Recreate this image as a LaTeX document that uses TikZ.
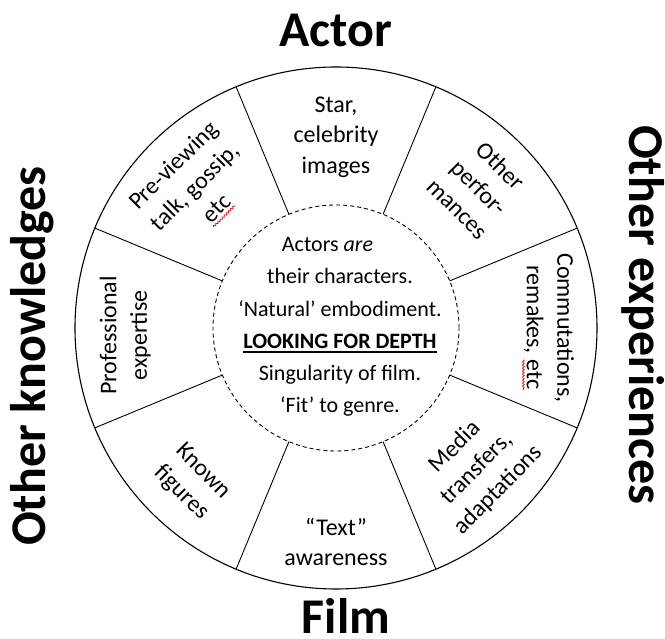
\documentclass[tikz,border=0pt]{standalone}
\usepackage{fontspec}
\setmainfont{Carlito}
\usetikzlibrary{decorations.pathmorphing}
\newcommand\spellerr[1]{\tikz[baseline=(w.base)]{\node[inner sep=0pt] (w) {#1};
	\draw[red!85!black,line width=0.7pt,decorate,decoration={snake,amplitude=0.9pt,segment length=3pt}] ([yshift=-3.5pt]w.base west)--([yshift=-3.5pt]w.base east);}}
\newcommand\thickul[1]{\setbox0\hbox{#1}\rlap{\rule[-4.5pt]{\wd0}{1.6pt}}\box0}
\tikzset{sector/.style={align=center,inner sep=0pt,font=\fontsize{24}{30.5}\selectfont},
	heading/.style={inner sep=0pt,anchor=base,font=\fontsize{50}{60}\selectfont\bfseries}}
\begin{document}
\begin{tikzpicture}[x=1pt,y=1pt]
	\useasboundingbox (0,0) rectangle (665,639);
	\begin{scope}[shift={(336,311)}]
		\draw[line width=1.1pt] (0,0) circle[radius=261pt];
		\draw[line width=0.9pt,dash pattern=on 4pt off 3pt] (0,0) circle[radius=123pt];
		\foreach \a in {22.5,67.5,...,337.5} \draw[line width=0.9pt] (\a:123pt)--(\a:261pt);
		\node[sector] (star) at (90:191pt) {Star,\\celebrity\\images};
		\node[sector,rotate=-45] (perf) at (44.5:201pt) {Other\\perfor-\\mances};
		\node[sector,rotate=-90] (remakes) at (0:212pt) {Commutations,\\remakes, \spellerr{etc}};
		\node[sector,rotate=45] (media) at (-45:199pt) {Media\\transfers,\\adaptations};
		\node[sector] (text) at (270:214pt) {“Text”\\awareness};
		\node[sector,rotate=-45] (known) at (227:211pt) {Known\\figures};
		\node[sector,rotate=90] (expert) at (182:211pt) {Professional\\expertise};
		\node[sector,rotate=45] (gossip) at (135:198pt) {Pre-viewing\\talk, gossip,\\\spellerr{etc}};
		\node[align=center,inner sep=0pt,font=\fontsize{22}{32.2}\selectfont] (core) at (4,1) {Actors \textit{are}\hspace*{25pt}\\their characters.\\‘Natural’ embodiment.\\\thickul{\textbf{LOOKING FOR DEPTH}}\\Singularity of film.\\‘Fit’ to genre.};
	\end{scope}
	\node[heading] (actor) at (336,592) {Actor};
	\node[heading] (film) at (346,5) {Film};
	\node[heading,rotate=90] (knowledge) at (45,283) {Other knowledges};
	\node[heading,rotate=-90] (experience) at (629,324) {Other experiences};
\end{tikzpicture}
\end{document}
